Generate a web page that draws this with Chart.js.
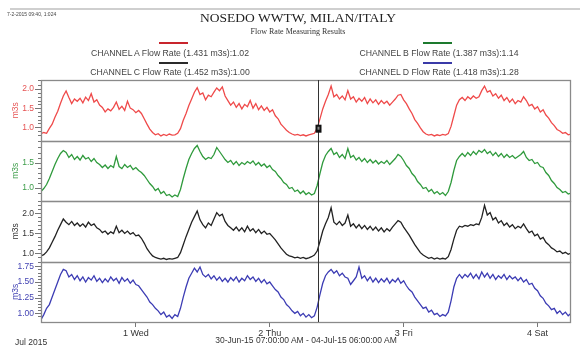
<!DOCTYPE html>
<html>
<head>
<meta charset="utf-8">
<script src="https://cdn.jsdelivr.net/npm/chart.js@4.4.1/dist/chart.umd.min.js"></script>
<style>
  html, body { margin:0; padding:0; background:#fff; }
  #wrap { position:relative; width:580px; height:345px; overflow:hidden; background:#fff; font-family:"Liberation Sans", Arial, sans-serif; }
  #c { position:absolute; left:0; top:0; }
  .t { position:absolute; white-space:nowrap; line-height:1; }
  .ctr { transform:translateX(-50%); }
  .ln { position:absolute; height:2px; }
</style>
</head>
<body>
<div id="wrap">
  <canvas id="c" width="580" height="345"></canvas>
  <div class="ln" style="left:10px; top:8px; width:570px; height:2px; background:#cfcfcf;"></div>
  <div class="t" style="left:7px; top:12px; font-size:5px; color:#444;">7-2-2015 09:40, 1:024</div>
  <div class="t ctr" style="left:298px; top:11px; font-family:'Liberation Serif','Times New Roman',serif; font-size:13.5px; color:#222;">NOSEDO WWTW, MILAN/ITALY</div>
  <div class="t ctr" style="left:298px; top:28px; font-family:'Liberation Serif','Times New Roman',serif; font-size:8px; color:#333;">Flow Rate Measuring Results</div>
  <div id="legend"></div>
  <div class="t ctr" style="left:306px; top:336px; font-size:8.5px; color:#333;">30-Jun-15 07:00:00 AM - 04-Jul-15 06:00:00 AM</div>
  <div class="t" style="left:15px; top:338px; font-size:8.5px; color:#333;">Jul 2015</div>
</div>
<script>
// ---- data ----
const seriesNames = [
  'CHANNEL A Flow Rate (1.431 m3s):1.02',
  'CHANNEL B Flow Rate (1.387 m3s):1.14',
  'CHANNEL C Flow Rate (1.452 m3s):1.00',
  'CHANNEL D Flow Rate (1.418 m3s):1.28'
];
const dayTickHours = [17, 41, 65, 89];           // hours after 30-Jun-15 07:00
const dayTickLabels = ['1 Wed', '2 Thu', '3 Fri', '4 Sat'];
const cursorHour = 49.6;
const cursorValueA = 0.96;

// half-hourly samples, 30-Jun-15 07:00 .. 04-Jul-15 06:00
const channelA = [
0.83,0.86,0.84,0.97,1.08,1.26,1.42,1.63,1.82,1.95,
1.78,1.62,1.74,1.68,1.76,1.64,1.79,1.70,1.88,1.66,
1.72,1.58,1.52,1.40,1.48,1.43,1.52,1.66,1.47,1.55,
1.44,1.68,1.50,1.46,1.38,1.44,1.36,1.22,1.08,0.95,
0.86,0.80,0.83,0.77,0.81,0.78,0.82,0.79,0.80,0.84,
0.96,1.18,1.36,1.57,1.74,1.92,2.04,1.86,1.90,1.72,
1.84,1.80,1.92,2.03,1.96,2.06,1.82,1.70,1.58,1.66,
1.52,1.62,1.48,1.60,1.54,1.70,1.50,1.62,1.46,1.56,
1.44,1.52,1.40,1.46,1.30,1.22,1.08,1.00,0.92,0.86,
0.82,0.79,0.81,0.78,0.80,0.77,0.80,0.82,0.84,0.97,
1.22,1.48,1.68,1.86,2.08,1.80,1.86,1.74,1.82,1.72,
1.96,1.74,1.80,1.66,1.76,1.68,1.78,1.62,1.74,1.64,
1.72,1.60,1.70,1.62,1.68,1.58,1.66,1.74,1.84,1.86,
1.72,1.62,1.48,1.36,1.20,1.10,0.98,0.88,0.82,0.79,
0.81,0.77,0.80,0.78,0.81,0.79,0.83,1.02,1.30,1.58,
1.72,1.78,1.70,1.80,1.74,1.82,1.76,1.80,1.96,2.08,
1.92,1.96,1.82,1.88,1.76,1.84,1.70,1.78,1.66,1.74,
1.62,1.70,1.66,1.80,1.70,1.56,1.60,1.48,1.54,1.40,
1.46,1.32,1.24,1.12,1.04,0.94,0.90,0.84,0.86,0.80,
0.82];
const channelB = [
0.92,0.98,1.06,1.18,1.32,1.46,1.58,1.68,1.74,1.70,
1.60,1.66,1.56,1.62,1.55,1.64,1.57,1.60,1.52,1.58,
1.50,1.46,1.40,1.45,1.38,1.44,1.40,1.62,1.42,1.38,
1.46,1.40,1.44,1.36,1.40,1.34,1.30,1.24,1.16,1.08,
1.02,0.94,0.98,0.88,0.92,0.84,0.86,0.81,0.85,0.82,
0.96,1.18,1.38,1.56,1.68,1.78,1.84,1.72,1.62,1.56,
1.60,1.58,1.66,1.80,1.72,1.64,1.56,1.50,1.54,1.46,
1.52,1.44,1.50,1.46,1.52,1.48,1.53,1.45,1.50,1.43,
1.47,1.40,1.44,1.36,1.32,1.24,1.18,1.10,1.06,0.98,
1.00,0.92,0.95,0.88,0.93,0.86,0.90,0.85,0.88,1.04,
1.28,1.50,1.64,1.72,1.78,1.66,1.70,1.60,1.66,1.58,
1.78,1.60,1.64,1.55,1.60,1.52,1.58,1.50,1.56,1.49,
1.54,1.47,1.52,1.48,1.54,1.46,1.52,1.58,1.66,1.62,
1.54,1.44,1.38,1.28,1.22,1.12,1.06,0.98,1.00,0.92,
0.96,0.88,0.92,0.86,0.90,0.84,0.92,1.10,1.34,1.54,
1.62,1.68,1.62,1.70,1.64,1.72,1.66,1.74,1.70,1.76,
1.68,1.72,1.64,1.70,1.62,1.68,1.60,1.66,1.60,1.64,
1.58,1.62,1.66,1.72,1.60,1.54,1.56,1.48,1.50,1.42,
1.40,1.30,1.24,1.14,1.08,1.00,0.96,0.90,0.92,0.87,
0.89];
const channelC = [
0.94,0.97,1.04,1.14,1.28,1.42,1.58,1.72,1.86,1.78,
1.72,1.80,1.70,1.76,1.68,1.74,1.66,1.78,1.70,1.74,
1.64,1.60,1.52,1.56,1.48,1.54,1.50,1.68,1.52,1.58,
1.50,1.56,1.48,1.52,1.44,1.46,1.38,1.26,1.12,1.02,
0.94,0.90,0.88,0.86,0.88,0.85,0.87,0.86,0.88,0.90,
1.02,1.22,1.42,1.60,1.78,1.92,2.06,1.84,1.72,1.64,
1.76,1.70,1.86,2.02,1.94,1.98,1.80,1.70,1.64,1.58,
1.66,1.56,1.64,1.54,1.68,1.56,1.62,1.52,1.60,1.50,
1.56,1.48,1.50,1.42,1.34,1.24,1.14,1.06,0.98,0.94,
0.92,0.89,0.91,0.88,0.90,0.87,0.89,0.92,0.96,1.06,
1.30,1.56,1.74,1.90,2.14,1.78,1.72,1.80,1.70,1.76,
1.96,1.68,1.74,1.64,1.72,1.62,1.70,1.60,1.68,1.58,
1.66,1.56,1.64,1.54,1.62,1.56,1.66,1.74,1.82,1.78,
1.66,1.56,1.46,1.34,1.22,1.12,1.02,0.96,0.92,0.88,
0.90,0.86,0.89,0.86,0.88,0.86,0.92,1.10,1.36,1.58,
1.68,1.66,1.70,1.68,1.72,1.70,1.74,1.72,1.90,2.20,
1.96,2.02,1.84,1.90,1.76,1.82,1.70,1.76,1.66,1.72,
1.62,1.68,1.64,1.74,1.62,1.52,1.56,1.44,1.48,1.36,
1.40,1.28,1.22,1.14,1.10,1.04,1.06,1.00,1.03,0.98,
1.01];
const channelD = [
0.90,0.98,1.08,1.14,1.26,1.38,1.50,1.62,1.70,1.68,
1.58,1.62,1.54,1.60,1.52,1.58,1.50,1.57,1.53,1.60,
1.51,1.56,1.49,1.55,1.50,1.58,1.52,1.56,1.48,1.57,
1.51,1.55,1.48,1.53,1.46,1.44,1.38,1.32,1.26,1.18,
1.14,1.08,1.04,0.98,1.02,0.94,0.97,0.92,0.98,0.95,
1.08,1.26,1.42,1.56,1.64,1.72,1.66,1.74,1.62,1.58,
1.62,1.55,1.60,1.53,1.58,1.51,1.56,1.50,1.57,1.52,
1.58,1.50,1.56,1.52,1.60,1.54,1.58,1.51,1.56,1.49,
1.54,1.47,1.50,1.44,1.38,1.34,1.26,1.22,1.14,1.10,
1.04,1.00,1.03,0.96,1.00,0.94,0.98,0.93,0.96,1.10,
1.30,1.48,1.60,1.66,1.70,1.64,1.68,1.60,1.64,1.58,
1.56,1.46,1.52,1.58,1.74,1.56,1.60,1.52,1.58,1.50,
1.56,1.49,1.55,1.50,1.56,1.48,1.54,1.50,1.56,1.48,
1.52,1.44,1.38,1.34,1.26,1.20,1.14,1.08,1.10,1.02,
1.05,0.98,1.00,0.95,0.98,0.96,1.02,1.20,1.42,1.56,
1.62,1.56,1.62,1.58,1.64,1.56,1.62,1.55,1.66,1.58,
1.64,1.56,1.62,1.54,1.60,1.56,1.62,1.54,1.60,1.55,
1.58,1.52,1.57,1.50,1.54,1.46,1.48,1.40,1.36,1.28,
1.24,1.16,1.12,1.06,1.08,1.00,1.04,0.98,1.02,0.96,
1.00];

// ---- styling ----
const lineColors  = ['#ef4a4a', '#2f9a3c', '#222222', '#3c3cb4'];
const legendColors = ['#c8252d', '#1d7a2e', '#2a2a2a', '#3a3aa8'];
const axisColors  = ['#e65454', '#3d9d4a', '#333333', '#4343b3'];

const hours = [];
for (let i = 0; i < channelA.length; i++) hours.push(i * 0.5);
const toXY = arr => arr.map((v, i) => ({x: hours[i], y: v}));

// legend (HTML, real text)
const legendSpec = [
  {cx: 170, ty: 49, ly: 42, lx: 159, i: 0},
  {cx: 439, ty: 49, ly: 42, lx: 423, i: 1},
  {cx: 170, ty: 68, ly: 62, lx: 159, i: 2},
  {cx: 439, ty: 68, ly: 62, lx: 423, i: 3}
];
const lg = document.getElementById('legend');
legendSpec.forEach(s => {
  const l = document.createElement('div');
  l.className = 'ln';
  l.style.cssText = `left:${s.lx}px; top:${s.ly}px; width:29px; height:2px; background:${legendColors[s.i]};`;
  lg.appendChild(l);
  const t = document.createElement('div');
  t.className = 't ctr';
  t.style.cssText = `left:${s.cx}px; top:${s.ty}px; font-size:8.7px; color:#444;`;
  t.textContent = seriesNames[s.i];
  lg.appendChild(t);
});

Chart.defaults.font.family = '"Liberation Sans", Arial, sans-serif';

const isMult = (v, step) => Math.abs(v / step - Math.round(v / step)) < 1e-6;

function yScale(idx, min, max, minorStep, majorStep, digits) {
  return {
    type: 'linear', position: 'left', stack: 'panels', stackWeight: 1,
    min, max,
    ticks: {
      stepSize: minorStep, autoSkip: false, padding: 7,
      color: axisColors[idx], font: {size: 8.5},
      callback: v => isMult(v, majorStep) ? v.toFixed(digits) : ''
    },
    grid: {display: false, drawTicks: false},
    border: {display: false},
    title: {display: true, text: 'm3s', color: axisColors[idx], font: {size: 8.5}, padding: {top: 11, bottom: 0}},
    afterFit: s => { s.width = 41; }
  };
}

const axisIds = ['yA', 'yB', 'yC', 'yD'];

const panelPlugin = {
  id: 'panels',
  afterDraw(chart) {
    const {ctx, chartArea: ca, scales} = chart;
    ctx.save();
    // minor / major ticks
    axisIds.forEach(id => {
      const s = scales[id];
      ctx.strokeStyle = '#777';
      ctx.lineWidth = 1;
      s.ticks.forEach(t => {
        const y = Math.round(s.getPixelForValue(t.value)) + 0.5;
        if (y < s.top || y > s.bottom) return;
        const major = t.label !== '' && t.label !== undefined;
        ctx.beginPath();
        ctx.moveTo(ca.left - (major ? 6 : 3), y);
        ctx.lineTo(ca.left, y);
        ctx.stroke();
      });
    });
    // panel frames
    ctx.strokeStyle = '#8a8a8a';
    ctx.lineWidth = 1.3;
    axisIds.forEach(id => {
      const s = scales[id];
      ctx.strokeRect(ca.left + 0.5, Math.round(s.top) + 0.5, ca.right - ca.left - 1, Math.round(s.bottom) - Math.round(s.top));
    });
    // cursor
    const x = Math.round(scales.x.getPixelForValue(cursorHour)) + 0.5;
    ctx.strokeStyle = '#333';
    ctx.lineWidth = 1;
    ctx.beginPath();
    ctx.moveTo(x, ca.top);
    ctx.lineTo(x, ca.bottom);
    ctx.stroke();
    const my = scales.yA.getPixelForValue(cursorValueA);
    ctx.fillStyle = '#111';
    ctx.fillRect(x - 3, my - 4, 6, 8);
    ctx.fillStyle = '#888';
    ctx.fillRect(x - 1, my - 2, 2, 3);
    ctx.restore();
  }
};

const seriesData = [channelA, channelB, channelC, channelD];

// stacked scales are placed bottom-up in definition order, so define D first
const scalesCfg = {
  x: {
    type: 'linear', position: 'bottom', min: 0, max: 95,
    afterBuildTicks: s => { s.ticks = dayTickHours.map(v => ({value: v})); },
    ticks: {
      autoSkip: false, maxRotation: 0, padding: 1,
      color: '#333', font: {size: 9},
      callback: v => { const k = dayTickHours.indexOf(v); return k >= 0 ? dayTickLabels[k] : ''; }
    },
    grid: {display: true, drawOnChartArea: false, drawTicks: true, tickLength: 5, color: '#777'},
    border: {display: false},
    afterFit: s => { s.height = 23; }
  },
  yD: yScale(3, 0.862, 1.827, 0.05, 0.25, 2),
  yC: yScale(2, 0.80, 2.31, 0.1, 0.5, 1),
  yB: yScale(1, 0.73, 1.94, 0.1, 0.5, 1),
  yA: yScale(0, 0.65, 2.24, 0.1, 0.5, 1)
};

new Chart(document.getElementById('c'), {
  type: 'line',
  data: {
    datasets: seriesData.map((arr, i) => ({
      label: seriesNames[i],
      data: toXY(arr),
      yAxisID: axisIds[i],
      borderColor: lineColors[i],
      borderWidth: 1.3,
      pointRadius: 0,
      tension: 0,
      fill: false
    }))
  },
  options: {
    responsive: false,
    animation: false,
    devicePixelRatio: 1,
    layout: {padding: {top: 80, right: 9, left: 0, bottom: 0}},
    plugins: {legend: {display: false}, tooltip: {enabled: false}, title: {display: false}},
    scales: scalesCfg
  },
  plugins: [panelPlugin]
});
</script>
</body>
</html>
